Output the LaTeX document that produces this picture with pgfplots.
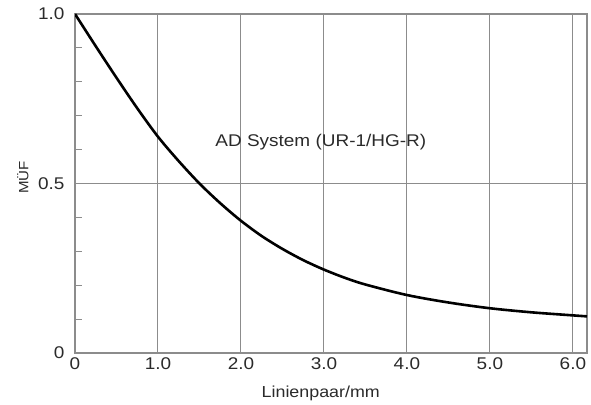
\documentclass[border=0pt]{standalone}
\usepackage{pgfplots}
\pgfplotsset{compat=1.18}
\usepackage{fontspec}
\setmainfont{Liberation Sans}[FakeStretch=1.12]
\definecolor{gridgray}{HTML}{8C8C8C}
\definecolor{txt}{HTML}{2A2A2A}

\begin{document}
\begin{tikzpicture}
\begin{axis}[
    at={(0,0)}, anchor=south west,
    scale only axis,
    width=512bp, height=339bp,
    xmin=0, xmax=6.17, ymin=0, ymax=1,
    xtick={0,1,2,3,4,5,6},
    xticklabels={0,1.0,2.0,3.0,4.0,5.0,6.0},
    ytick={0,0.5,1},
    yticklabels={0,0.5,1.0},
    minor ytick={0.1,0.2,0.3,0.4,0.6,0.7,0.8,0.9},
    xmajorgrids, ymajorgrids,
    major grid style={draw=gridgray, line width=1pt},
    axis line style={draw=gridgray, line width=1.1pt},
    tick align=inside,
    ytick pos=left, xtick pos=bottom,
    major tick length=0pt,
    minor tick length=7bp,
    minor tick style={draw=gridgray, line width=0.9pt},
    tick label style={font=\fontsize{17}{19}\selectfont, text=txt},
    /pgf/number format/assume math mode=true,
    xticklabel style={yshift=-1bp},
    yticklabel style={xshift=-7bp},
    xlabel={Linienpaar/mm},
    xlabel style={font=\fontsize{16}{18}\selectfont, text=txt,
        at={(axis description cs:0.48,-0.118)}, anchor=center},
    ylabel={MÜF},
    ylabel style={font=\fontsize{13.5}{15}\selectfont, text=txt,
        at={(axis description cs:-0.102,0.518)}, anchor=center},
]
\addplot[black, line width=2.6bp, smooth] coordinates {
    (0,1.0) (0.25,0.905) (0.5,0.812) (0.75,0.722) (1.0,0.638)
    (1.25,0.566) (1.5,0.5) (1.75,0.442) (2.0,0.390) (2.25,0.345)
    (2.5,0.307) (2.75,0.274) (3.0,0.246) (3.25,0.222) (3.5,0.202)
    (4.0,0.171) (4.5,0.149) (5.0,0.132)
    (5.5,0.12) (6.0,0.111) (6.17,0.108)
};
\node[anchor=west, inner sep=0pt, font=\fontsize{17}{19}\selectfont, text=txt]
    at (axis cs:1.69,0.622) {AD System (UR-1/HG-R)};
\end{axis}
\path (-75bp,-52bp) rectangle (516bp,353bp);
\end{tikzpicture}
\end{document}
